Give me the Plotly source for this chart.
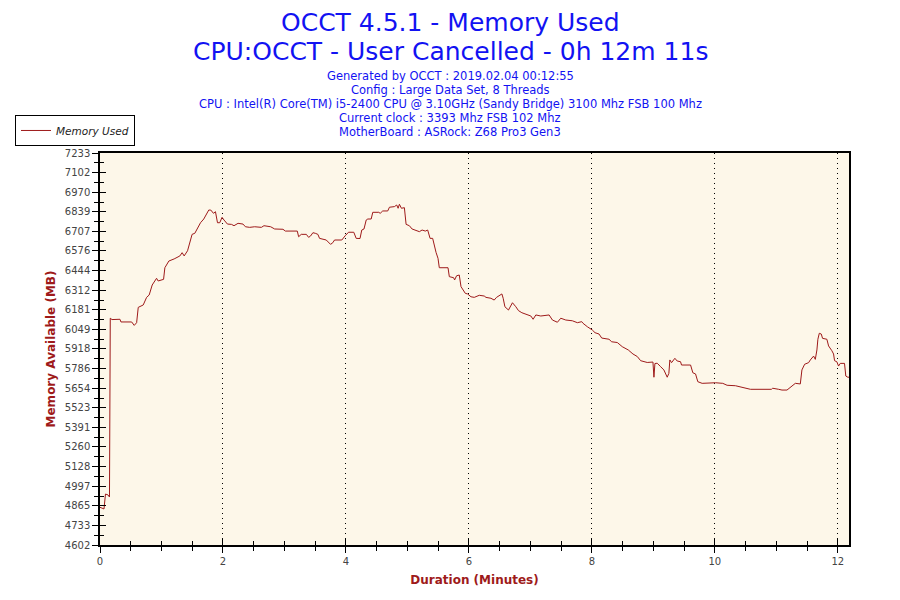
import plotly.graph_objects as go

# OCCT memory log
minutes = [
    0.000, 0.065, 0.089, 0.130, 0.154, 0.167, 0.195, 0.325, 0.341, 0.515,
    0.557, 0.596, 0.622, 0.703, 0.758, 0.800, 0.849, 0.920, 0.946, 1.034,
    1.055, 1.120, 1.206, 1.299, 1.336, 1.369, 1.424, 1.498, 1.542, 1.635,
    1.688, 1.721, 1.769, 1.802, 1.846, 1.878, 1.911, 1.948, 1.985, 2.018,
    2.073, 2.138, 2.180, 2.245, 2.326, 2.365, 2.435, 2.516, 2.625, 2.667,
    2.776, 2.841, 2.976, 3.015, 3.209, 3.231, 3.274, 3.356, 3.393, 3.425,
    3.463, 3.502, 3.544, 3.571, 3.641, 3.680, 3.750, 3.787, 3.815, 3.933,
    3.989, 4.042, 4.128, 4.167, 4.229, 4.258, 4.294, 4.330, 4.356, 4.411,
    4.437, 4.534, 4.557, 4.599, 4.680, 4.708, 4.789, 4.826, 4.849, 4.870,
    4.903, 4.951, 4.979, 5.032, 5.076, 5.195, 5.239, 5.292, 5.330, 5.369,
    5.411, 5.443, 5.466, 5.498, 5.519, 5.661, 5.682, 5.752, 5.768, 5.800,
    5.844, 5.872, 5.909, 5.942, 5.979, 6.034, 6.088, 6.169, 6.250, 6.278,
    6.359, 6.412, 6.450, 6.505, 6.537, 6.558, 6.586, 6.644, 6.683, 6.709,
    6.764, 6.807, 6.862, 6.953, 7.008, 7.045, 7.089, 7.170, 7.305, 7.359,
    7.440, 7.495, 7.576, 7.683, 7.765, 7.836, 7.857, 7.927, 8.008, 8.052,
    8.117, 8.161, 8.279, 8.323, 8.414, 8.495, 8.550, 8.593, 8.669, 8.739,
    8.794, 8.901, 8.994, 9.010, 9.026, 9.063, 9.119, 9.172, 9.226, 9.253,
    9.269, 9.297, 9.351, 9.388, 9.443, 9.459, 9.606, 9.643, 9.687, 9.724,
    9.794, 10.011, 10.130, 10.200, 10.336, 10.443, 10.580, 10.921, 10.942, 11.039,
    11.093, 11.174, 11.245, 11.310, 11.391, 11.417, 11.461, 11.526, 11.554, 11.607,
    11.635, 11.661, 11.677, 11.700, 11.732, 11.753, 11.823, 11.851, 11.904, 11.932,
    11.948, 11.985, 12.013, 12.041, 12.110, 12.131, 12.164, 12.183,
]
memory_mb = [
    4855, 4844, 4944, 4938, 4924, 6124, 6115, 6117, 6099, 6099,
    6076, 6094, 6197, 6213, 6264, 6280, 6347, 6392, 6374, 6385,
    6463, 6508, 6522, 6542, 6564, 6542, 6577, 6687, 6694, 6765,
    6790, 6812, 6850, 6850, 6828, 6839, 6765, 6765, 6801, 6783,
    6756, 6754, 6745, 6761, 6756, 6738, 6734, 6738, 6734, 6745,
    6738, 6723, 6721, 6709, 6709, 6671, 6687, 6687, 6667, 6676,
    6698, 6694, 6687, 6660, 6656, 6649, 6620, 6631, 6649, 6649,
    6678, 6701, 6701, 6660, 6659, 6716, 6723, 6783, 6790, 6790,
    6835, 6835, 6828, 6844, 6844, 6869, 6873, 6884, 6862, 6889,
    6862, 6866, 6754, 6745, 6723, 6705, 6716, 6709, 6716, 6660,
    6660, 6597, 6566, 6526, 6463, 6463, 6403, 6396, 6381, 6409,
    6414, 6336, 6313, 6291, 6287, 6268, 6264, 6278, 6273, 6264,
    6258, 6246, 6264, 6280, 6287, 6258, 6201, 6179, 6213, 6228,
    6201, 6175, 6161, 6146, 6139, 6117, 6146, 6139, 6146, 6112,
    6097, 6124, 6112, 6107, 6094, 6101, 6090, 6067, 6045, 6027,
    6018, 5991, 5983, 5966, 5961, 5933, 5919, 5911, 5884, 5867,
    5839, 5827, 5830, 5728, 5820, 5822, 5799, 5777, 5728, 5754,
    5844, 5826, 5855, 5837, 5832, 5810, 5810, 5758, 5750, 5698,
    5687, 5691, 5687, 5674, 5671, 5660, 5647, 5647, 5654, 5647,
    5642, 5642, 5669, 5687, 5683, 5777, 5815, 5826, 5844, 5870,
    5848, 5911, 5983, 6023, 6018, 5989, 5983, 5938, 5906, 5884,
    5839, 5832, 5803, 5821, 5821, 5736, 5728, 5728,
]

y_ticks = [4602, 4733, 4865, 4997, 5128, 5260, 5391, 5523, 5654, 5786,
           5918, 6049, 6181, 6312, 6444, 6576, 6707, 6839, 6970, 7102, 7233]
x_ticks = [0, 2, 4, 6, 8, 10, 12]

title_lines = ["OCCT 4.5.1 - Memory Used",
               "CPU:OCCT - User Cancelled - 0h 12m 11s"]
info_lines = [
    "Generated by OCCT : 2019.02.04 00:12:55",
    "Config : Large Data Set, 8 Threads",
    "CPU : Intel(R) Core(TM) i5-2400 CPU @ 3.10GHz (Sandy Bridge) 3100 Mhz FSB 100 Mhz",
    "Current clock : 3393 Mhz FSB 102 Mhz",
    "MotherBoard : ASRock: Z68 Pro3 Gen3",
]

FONT = "DejaVu Sans"
RED = "#9e1a1a"
BLUE = "#1212f2"
x_range = [0, 12.183]
y_range = [4602, 7233]

fig = go.Figure()
fig.add_trace(go.Scatter(
    x=minutes, y=memory_mb, mode="lines", name="Memory Used",
    line=dict(color=RED, width=1),
))
# empty trace so the overlay axes (inside tick halves) get drawn
fig.add_trace(go.Scatter(x=[], y=[], xaxis="x2", yaxis="y2", showlegend=False))

tick_font = dict(family=FONT, size=10, color="#444444")
# page body adds an 8px offset, margins compensate for it
fig.update_layout(
    width=900, height=600,
    paper_bgcolor="white", plot_bgcolor="#fdf7e9",
    margin=dict(l=92, r=59, t=145, b=63, autoexpand=False),
    font=dict(family=FONT),
    showlegend=True,
    legend=dict(
        x=-0.1135, y=1.097, xanchor="left", yanchor="top",
        bordercolor="black", borderwidth=1, bgcolor="white",
        font=dict(family=FONT, size=10.5, color="#222222", style="italic"),
        tracegroupgap=0, itemwidth=30,
    ),
    xaxis=dict(
        range=x_range, tickvals=x_ticks, ticks="outside", ticklen=6,
        tickcolor="black", showline=True, linecolor="black", linewidth=1.5,
        mirror=True, showgrid=True, gridcolor="black", griddash="1px,4px",
        gridwidth=1, zeroline=False, tickfont=tick_font,
        minor=dict(dtick=0.5, ticks="outside", ticklen=4, tickcolor="black",
                   showgrid=False),
        title=dict(text="<b>Duration (Minutes)</b>", standoff=10,
                   font=dict(family=FONT, size=12, color=RED)),
    ),
    yaxis=dict(
        range=y_range, tickvals=y_ticks, ticktext=[str(v) for v in y_ticks],
        ticks="outside", ticklen=6, tickcolor="black", showline=True,
        linecolor="black", linewidth=1.5, mirror=True, showgrid=False,
        zeroline=False, tickfont=tick_font,
        minor=dict(tick0=4602 + 65.775, dtick=131.55, ticks="outside",
                   ticklen=4, tickcolor="black", showgrid=False),
        title=dict(text="<b>Memory Available (MB)</b>", standoff=7,
                   font=dict(family=FONT, size=12, color=RED)),
    ),
    xaxis2=dict(
        overlaying="x", matches="x", range=x_range, tickvals=x_ticks,
        ticks="inside", ticklen=6, tickcolor="black", showticklabels=False,
        showgrid=False, showline=False, zeroline=False,
        minor=dict(dtick=0.5, ticks="inside", ticklen=4, tickcolor="black"),
    ),
    yaxis2=dict(
        overlaying="y", matches="y", range=y_range, tickvals=y_ticks,
        ticks="inside", ticklen=6, tickcolor="black", showticklabels=False,
        showgrid=False, showline=False, zeroline=False,
        minor=dict(tick0=4602 + 65.775, dtick=131.55, ticks="inside",
                   ticklen=4, tickcolor="black"),
    ),
)

# titles and run info as paper-positioned text
title_y = [23, 51]
for line, ypx in zip(title_lines, title_y):
    fig.add_annotation(
        text=line, xref="paper", yref="paper",
        x=(450 - 100) / 749, y=(545 - ypx) / 392,
        xanchor="center", yanchor="middle", showarrow=False, borderpad=0,
        font=dict(family=FONT, size=25, color=BLUE),
    )
for i, line in enumerate(info_lines):
    ypx = 76 + 14 * i
    fig.add_annotation(
        text=line, xref="paper", yref="paper",
        x=(450 - 100) / 749, y=(545 - ypx) / 392,
        xanchor="center", yanchor="middle", showarrow=False,
        font=dict(family=FONT, size=11.5, color=BLUE),
    )

fig.write_html("out.html")
